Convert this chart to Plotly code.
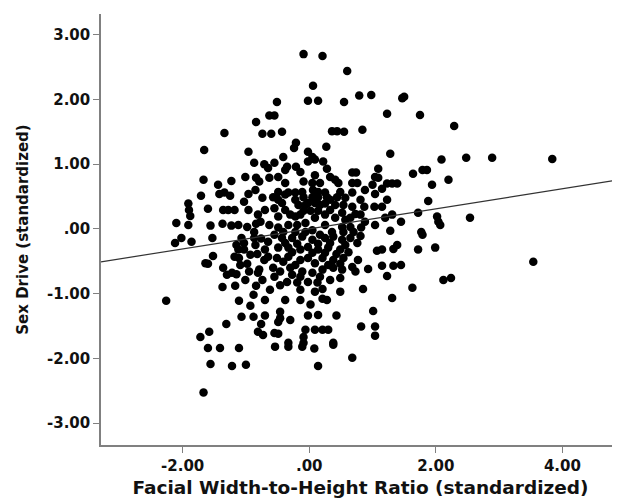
import plotly.graph_objects as go

# standardized facial width-to-height ratio (x) and sex drive (y)
fwhr = [
 -0.51,-0.63,-0.55,-0.84,-0.09,0.21,0.60,0.06,-0.02,0.14,0.55,0.79,0.98,1.47,1.50,1.23,1.75,2.29,
 -1.34,-0.74,-0.60,-1.66,-0.96,-0.87,-0.71,-0.65,-0.55,-1.67,-1.23,-1.01,-0.84,-0.79,-0.63,-1.44,
 -1.71,-1.42,-1.34,-1.25,-0.96,-1.03,-0.57,-1.91,-1.90,-1.88,-1.60,-1.36,-1.28,-1.18,-0.96,-0.81,
 -0.55,-2.10,-1.91,-1.56,-1.37,-1.23,-1.12,-0.98,-0.84,-0.77,-0.63,-0.87,-0.55,
 -0.43,0.36,0.44,0.55,0.84,-0.21,-0.24,0.27,-0.02,0.05,-0.41,1.28,2.09,-0.02,0.09,0.22,-0.35,-0.21,
 0.28,1.79,1.86,1.64,1.09,0.68,0.74,1.04,1.09,0.09,-0.49,0.33,0.41,1.00,2.20,-0.38,-0.09,0.05,0.17,
 0.46,0.68,0.76,1.23,1.31,1.39,1.94,1.15,-0.49,-0.33,-0.22,-0.11,0.06,0.14,0.25,0.49,0.68,1.04,
 -0.09,0.05,0.14,0.28,0.44,-0.49,-0.43,1.23,1.88,-0.17,-0.02,0.09,0.25,0.41,0.54,0.68,0.87,1.03,
 1.15,-0.38,-0.09,0.02,0.14,0.33,0.52,0.73,1.31,1.72,2.02,-0.49,-0.22,0.09,0.57,0.88,1.20,2.04,
 1.45,-0.33,-0.19,-0.06,0.25,0.52,0.65,0.82,1.04,1.28,1.77,2.07,-0.49,0.05,0.36,0.70,
 2.48,2.89,3.84,2.54,
 -2.12,-2.02,-1.86,-1.53,-1.07,-1.03,-1.15,-1.12,-1.03,-0.87,-0.76,-0.65,-1.52,-1.64,-1.60,-1.18,
 -1.11,-0.82,-0.71,-0.98,-1.36,-1.30,-1.22,-1.15,-0.95,-0.79,-0.81,-0.57,-0.55,-1.37,-1.17,-0.84,
 -2.26,-0.88,-1.11,-0.93,-1.07,-0.88,-0.70,-1.31,-0.76,-0.81,-0.73,-0.55,-1.72,-1.58,
 -1.60,-1.41,-1.11,-0.54,-1.56,-1.22,-1.00,-1.67,
 -0.33,-0.11,0.08,0.38,0.14,0.68,
 1.79,1.07,1.15,1.33,1.39,1.72,1.99,1.15,1.33,1.45,1.23,0.93,0.77,0.85,1.63,2.12,2.24,0.49,0.21,
 0.21,0.28,1.31,1.01,-0.46,-0.46,-0.02,0.14,0.43,-0.49,0.82,1.04,1.04,0.09,0.21,0.30,-0.06,-0.09,
 -0.49,-0.33,-0.09,0.38,3.54,
 -0.43,-0.27,-0.11,0.05,0.25,0.38,0.52,0.65,0.76,-0.49,-0.33,-0.14,-0.02,0.14,0.30,0.49,0.62,
 -0.51,-0.33,-0.14,-0.02,0.21,0.38,0.54,0.68,-0.46,-0.30,-0.27,-0.11,0.05,0.21,0.38,0.52,0.73,
 -0.35,-0.19,-0.02,0.13,0.33,
 -0.38,-0.22,-0.06,0.17,0.33,0.57,0.81,-0.30,-0.14,0.25,0.41,0.65,0.81,-0.41,-0.22,-0.06,0.17,
 0.54,0.81,-0.38,-0.19,0.14,0.33,0.57,-0.27,0.05,0.25,0.43,-0.41,-0.22,0.09,0.30,0.49,-0.14,0.17,
 0.49,-0.46,-0.14,0.09,-0.85,-0.70,-0.93,-0.65,-1.09,-0.74,-1.01,-0.62,-0.70,-0.38,-0.14,0.02,
 -0.30,-0.70,-0.74,-0.85,-0.38,-0.14,0.88,
]
sex_drive = [
 1.96,1.75,1.75,1.65,2.70,2.67,2.44,2.21,1.98,1.98,1.96,2.06,2.07,2.02,2.04,1.78,1.76,1.59,
 1.48,1.47,1.47,1.22,1.19,1.02,1.00,0.94,1.02,0.76,0.74,0.80,0.79,0.73,0.79,0.68,
 0.51,0.54,0.56,0.51,0.54,0.42,0.49,0.39,0.29,0.20,0.31,0.29,0.29,0.29,0.29,0.22,
 0.32,0.09,0.06,0.05,0.08,0.05,0.06,0.03,0.08,0.11,0.06,-0.05,-0.09,
 1.50,1.51,1.51,1.50,1.53,1.33,1.25,1.27,1.19,1.11,1.11,1.16,1.07,1.04,1.07,1.04,0.96,0.96,
 0.93,0.91,0.91,0.85,0.93,0.87,0.87,0.80,0.79,0.83,0.80,0.80,0.76,0.68,0.76,0.71,0.73,0.71,0.71,
 0.71,0.71,0.71,0.70,0.70,0.70,0.68,0.62,0.57,0.56,0.56,0.57,0.60,0.57,0.56,0.57,0.56,0.54,
 0.49,0.49,0.49,0.49,0.49,0.45,0.40,0.45,0.43,0.37,0.40,0.40,0.39,0.37,0.37,0.34,0.34,0.34,
 0.34,0.29,0.28,0.28,0.28,0.29,0.25,0.23,0.22,0.25,0.19,0.19,0.19,0.17,0.14,0.11,0.17,0.11,
 0.11,0.06,0.06,0.09,0.06,0.03,0.03,0.02,0.06,-0.03,-0.05,0.06,0.02,-0.02,-0.05,-0.05,
 1.10,1.10,1.08,0.17,
 -0.22,-0.14,-0.20,-0.14,-0.14,-0.22,-0.25,-0.32,-0.32,-0.14,-0.15,-0.20,-0.42,-0.53,-0.54,-0.43,
 -0.45,-0.39,-0.48,-0.54,-0.60,-0.71,-0.68,-0.70,-0.66,-0.63,-0.68,-0.60,-0.74,-0.90,-0.88,-0.88,
 -1.11,-1.02,-1.11,-1.19,-1.36,-1.36,-1.34,-1.47,-1.47,-1.59,-1.64,-1.61,-1.67,-1.59,
 -1.84,-1.84,-1.84,-1.82,-2.09,-2.12,-2.10,-2.53,
 -1.82,-1.82,-1.85,-1.79,-2.12,-1.99,
 -0.09,-0.34,-0.32,-0.31,-0.25,-0.32,-0.29,-0.57,-0.57,-0.56,-0.73,-0.62,-0.48,-0.93,-0.91,-0.79,
 -0.76,-0.97,-0.93,-1.08,-1.10,-1.07,-1.27,-1.28,-1.38,-1.34,-1.33,-1.34,-1.44,-1.51,-1.51,-1.65,
 -1.56,-1.56,-1.56,-1.56,-1.67,-1.62,-1.76,-1.76,-1.76,-0.51,
 -0.14,-0.14,-0.12,-0.17,-0.14,-0.12,-0.17,-0.14,-0.22,-0.29,-0.29,-0.32,-0.28,-0.32,-0.29,-0.32,
 -0.36,-0.45,-0.43,-0.48,-0.45,-0.45,-0.48,-0.45,-0.59,-0.66,-0.60,-0.71,-0.66,-0.68,-0.63,-0.60,
 -0.63,-0.66,-0.82,-0.83,-0.82,-0.83,-0.79,
 0.53,0.45,0.37,0.37,0.45,0.48,0.45,0.22,0.22,0.22,0.17,0.17,0.22,-0.05,-0.05,-0.05,-0.09,
 -0.05,-0.11,-0.22,-0.23,-0.23,-0.22,-0.25,-0.36,-0.37,-0.37,-0.39,-0.51,-0.56,-0.53,-0.56,-0.54,-0.74,-0.74,
 -0.76,-0.87,-0.94,-0.97,-0.25,-0.32,-0.40,-0.43,-0.56,-0.79,-0.79,-0.94,-1.10,-1.10,-1.10,-1.17,
 -1.41,0.29,0.48,0.60,0.91,0.88,0.60,
]

# fit line (linear regression of sex drive on fWHR)
fit_slope = 0.155
fit_intercept = 0.0

x_range = [-3.29, 4.91]
y_range = [-3.34, 3.32]
x_ticks = [-2, 0, 2, 4]
x_tick_text = ["-2.00", ".00", "2.00", "4.00"]
y_ticks = [3, 2, 1, 0, -1, -2, -3]
y_tick_text = ["3.00", "2.00", "1.00", ".00", "-1.00", "-2.00", "-3.00"]

n = min(len(fwhr), len(sex_drive))

fig = go.Figure()
fig.add_trace(go.Scatter(
    x=fwhr[:n], y=sex_drive[:n], mode="markers",
    marker=dict(color="black", size=8.5, line=dict(width=0)),
    hoverinfo="skip", showlegend=False,
))
fig.add_trace(go.Scatter(
    x=x_range, y=[fit_intercept + fit_slope * v for v in x_range], mode="lines",
    line=dict(color="#333333", width=1.2), hoverinfo="skip", showlegend=False,
))

axis_font = dict(family="DejaVu Sans", size=15, color="#111111", weight="bold")
xtitle_font = dict(family="DejaVu Sans", size=18.5, color="#111111", weight="bold")
ytitle_font = dict(family="DejaVu Sans", size=15, color="#111111", weight="bold")

# page body has an 8px margin: size the figure so it ends at the window edge
fig.update_layout(
    width=612, height=495,
    margin=dict(l=93, r=0, t=6, b=58, autoexpand=False),
    paper_bgcolor="white", plot_bgcolor="white",
    xaxis=dict(
        range=x_range, tickvals=x_ticks, ticktext=x_tick_text,
        showgrid=False, zeroline=False, showline=True, linecolor="#808080", linewidth=1.5,
        ticks="outside", ticklen=6, tickcolor="#808080", tickwidth=1.2,
        tickfont=axis_font,
        title=dict(text="Facial Width-to-Height Ratio (standardized)", font=xtitle_font, standoff=7),
    ),
    yaxis=dict(
        range=y_range, tickvals=y_ticks, ticktext=y_tick_text,
        showgrid=False, zeroline=False, showline=True, linecolor="#808080", linewidth=1.5,
        ticks="outside", ticklen=6, tickcolor="#808080", tickwidth=1.2,
        tickfont=axis_font,
        title=dict(text="Sex Drive (standardized)", font=ytitle_font, standoff=15),
    ),
)

fig.write_html("out.html")
